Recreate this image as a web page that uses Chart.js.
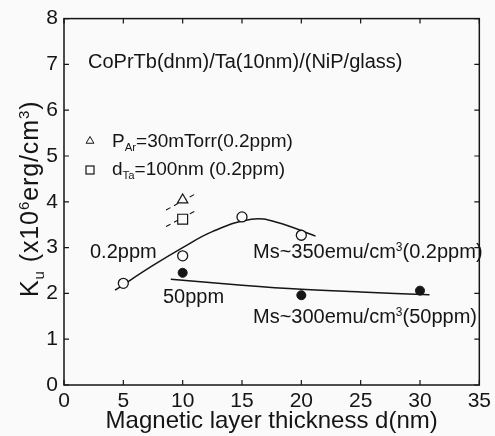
<!DOCTYPE html>
<html>
<head>
<meta charset="utf-8">
<script src="https://cdn.jsdelivr.net/npm/chart.js@4/dist/chart.umd.min.js"></script>
<style>
  html, body { margin: 0; padding: 0; background: #fafafa; }
  #wrap { width: 495px; height: 436px; position: relative; }
</style>
</head>
<body>
<div id="wrap"><canvas id="kuChart"></canvas></div>
<script>
// measured points, Ku in 10^6 erg/cm^3 vs magnetic layer thickness in nm
const thickness02 = [5, 10, 15, 20];
const ku02ppm = [2.22, 2.82, 3.67, 3.27];
const thickness50 = [10, 20, 30];
const ku50ppm = [2.45, 1.96, 2.06];
const arPoint = { x: 10, y: 4.04 };   // P_Ar = 30 mTorr
const taPoint = { x: 10, y: 3.62 };   // d_Ta = 100 nm

// hand-drawn trend lines
const trend02X = [4.3, 7.5, 10, 12.5, 15.8, 18, 21.2];
const trend02Y = [2.07, 2.61, 3.0, 3.35, 3.62, 3.55, 3.25];
const trend50X = [9, 15, 20, 25, 30.8];
const trend50Y = [2.31, 2.18, 2.09, 2.03, 1.97];
const guideArX = [8.6, 11.2];
const guideArY = [3.82, 4.19];
const guideTaX = [8.6, 11.2];
const guideTaY = [3.46, 3.82];

const ink = '#151515';
const paper = '#fafafa';
const family = '"Liberation Sans", Arial, Helvetica, sans-serif';

function pts(xs, ys) {
    return xs.map((v, i) => ({ x: v, y: ys[i] }));
}

// text with sub/superscript pieces
function drawRich(ctx, parts, x, y, size) {
    let cx = x;
    for (const p of parts) {
        const small = p.sub || p.sup;
        const s = small ? size * 0.6 : size;
        ctx.font = s + 'px ' + family;
        let dy = 0;
        if (p.sub) dy = size * 0.22;
        if (p.sup) dy = -size * 0.36;
        ctx.fillText(p.t, cx, y + dy);
        cx += ctx.measureText(p.t).width;
    }
}

const frame = {
    id: 'frame',
    beforeDatasetsDraw(chart) {
        const { ctx, chartArea: a, scales: { x, y } } = chart;
        ctx.save();
        ctx.strokeStyle = ink;
        ctx.lineWidth = 1.5;
        ctx.strokeRect(a.left, a.top, a.right - a.left, a.bottom - a.top);
        ctx.lineWidth = 1.2;
        ctx.beginPath();
        for (const t of x.ticks) {
            const px = x.getPixelForValue(t.value);
            ctx.moveTo(px, a.bottom); ctx.lineTo(px, a.bottom - 5);
            ctx.moveTo(px, a.top); ctx.lineTo(px, a.top + 5);
        }
        for (const t of y.ticks) {
            const py = y.getPixelForValue(t.value);
            ctx.moveTo(a.left, py); ctx.lineTo(a.left + 5, py);
            ctx.moveTo(a.right, py); ctx.lineTo(a.right - 5, py);
        }
        ctx.stroke();
        ctx.restore();
    },
    afterDraw(chart) {
        const ctx = chart.ctx;
        ctx.save();
        ctx.textBaseline = 'alphabetic';
        ctx.textAlign = 'left';

        // legend markers
        ctx.fillStyle = paper;
        ctx.strokeStyle = ink;
        Chart.helpers.drawPoint(ctx, { pointStyle: 'triangle', radius: 4.5, borderWidth: 1.2 }, 90, 141);
        ctx.lineWidth = 1.2;
        ctx.strokeRect(86, 166, 8, 8);

        ctx.fillStyle = ink;
        drawRich(ctx, [{ t: 'CoPrTb(dnm)/Ta(10nm)/(NiP/glass)' }], 88, 68, 20);
        drawRich(ctx, [{ t: 'P' }, { t: 'Ar', sub: true }, { t: '=30mTorr(0.2ppm)' }], 112, 147, 19);
        drawRich(ctx, [{ t: 'd' }, { t: 'Ta', sub: true }, { t: '=100nm (0.2ppm)' }], 112, 175, 19);

        drawRich(ctx, [{ t: '0.2ppm' }], 90, 258, 20);
        drawRich(ctx, [{ t: '50ppm' }], 163, 303, 20);
        drawRich(ctx, [{ t: 'Ms~350emu/cm' }, { t: '3', sup: true }, { t: '(0.2ppm)' }], 253, 258, 20);
        drawRich(ctx, [{ t: 'Ms~300emu/cm' }, { t: '3', sup: true }, { t: '(50ppm)' }], 253, 323, 20);

        // y axis title
        ctx.translate(38, 297);
        ctx.rotate(-Math.PI / 2);
        ctx.letterSpacing = '0.9px';
        drawRich(ctx, [{ t: 'K' }, { t: 'u', sub: true }, { t: ' (x10' }, { t: '6', sup: true },
            { t: 'erg/cm' }, { t: '3', sup: true }, { t: ')' }], 0, 0, 25);
        ctx.restore();
    }
};

const chartData = {
    datasets: [
        {
            label: '0.2ppm',
            data: pts(thickness02, ku02ppm),
            pointStyle: 'circle',
            pointRadius: 5,
            pointBackgroundColor: paper,
            pointBorderColor: ink,
            pointBorderWidth: 1.3
        },
        {
            label: '50ppm',
            data: pts(thickness50, ku50ppm),
            pointStyle: 'circle',
            pointRadius: 4.5,
            pointBackgroundColor: ink,
            pointBorderColor: ink,
            pointBorderWidth: 1
        },
        {
            label: 'PAr=30mTorr',
            data: [arPoint],
            pointStyle: 'triangle',
            pointRadius: 6,
            pointBackgroundColor: paper,
            pointBorderColor: ink,
            pointBorderWidth: 1.2
        },
        {
            label: 'dTa=100nm',
            data: [taPoint],
            pointStyle: 'rect',
            pointRadius: 7,
            pointBackgroundColor: paper,
            pointBorderColor: ink,
            pointBorderWidth: 1.2
        },
        {
            data: pts(trend02X, trend02Y),
            showLine: true,
            pointRadius: 0,
            borderColor: ink,
            borderWidth: 1.5,
            tension: 0.4
        },
        {
            data: pts(trend50X, trend50Y),
            showLine: true,
            pointRadius: 0,
            borderColor: ink,
            borderWidth: 1.5,
            tension: 0.4
        },
        {
            data: pts(guideArX, guideArY),
            showLine: true,
            pointRadius: 0,
            borderColor: ink,
            borderWidth: 1.1,
            borderDash: [5, 4]
        },
        {
            data: pts(guideTaX, guideTaY),
            showLine: true,
            pointRadius: 0,
            borderColor: ink,
            borderWidth: 1.1,
            borderDash: [5, 4]
        }
    ]
};

const config = {
    type: 'scatter',
    data: chartData,
    options: {
        responsive: true,
        maintainAspectRatio: false,
        animation: false,
        layout: {
            padding: { left: 0, top: 17, right: 14, bottom: 0 }
        },
        scales: {
            x: {
                type: 'linear',
                min: 0,
                max: 35,
                afterFit: (s) => { s.height = 51; },
                grid: { display: false, drawTicks: false },
                border: { display: false },
                ticks: {
                    stepSize: 5,
                    padding: 4,
                    color: ink,
                    font: { size: 21, family: family }
                },
                title: {
                    display: true,
                    text: 'Magnetic layer thickness d(nm)',
                    color: ink,
                    font: { size: 24, family: family },
                    padding: { top: 0, bottom: 0 }
                }
            },
            y: {
                min: 0,
                max: 8,
                afterFit: (s) => { s.width = 64; },
                grid: { display: false, drawTicks: false },
                border: { display: false },
                ticks: {
                    stepSize: 1,
                    padding: 6,
                    color: ink,
                    font: { size: 21, family: family }
                }
            }
        },
        plugins: {
            legend: { display: false },
            tooltip: { enabled: false }
        }
    },
    plugins: [frame]
};

new Chart(document.getElementById('kuChart'), config);
</script>
</body>
</html>
